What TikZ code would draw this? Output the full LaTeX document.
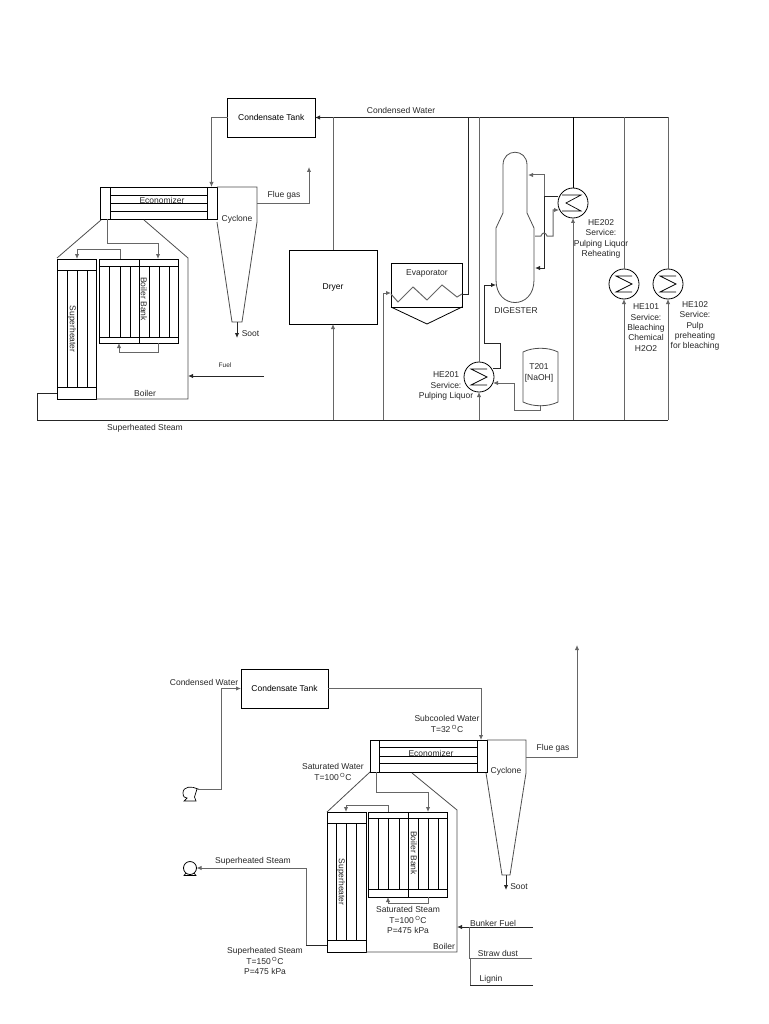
\documentclass[tikz,border=0pt]{standalone}
\usepackage{fontspec}
\setmainfont{Liberation Sans}
\usetikzlibrary{calc, arrows.meta}

\begin{document}
\begin{tikzpicture}[x=1pt, y=-1pt, >={Latex[length=5pt,width=4.5pt]},
    font=\fontsize{8.5}{10.3}\selectfont,
    unitbox/.style={draw, line width=0.8pt, inner sep=0pt, outer sep=0pt, align=center},
    heat/.style={draw, circle, line width=0.8pt, minimum size=30pt, inner sep=0pt, outer sep=0pt},
    tube/.style={line width=0.7pt},
    stream/.style={draw=black!60, line width=1pt},
    hotline/.style={draw=black!85, line width=1pt},
    shell/.style={draw=black!70, line width=0.8pt},
    txt/.style={inner sep=0pt, align=center, text=black!85}]

    \useasboundingbox (0,0) rectangle (768,1024);

    % 1. Upper flowsheet: tank, boiler units and cyclone
    \node[unitbox, minimum width=87.5pt, minimum height=39pt] (tankA) at (271.25,117.5) {Condensate Tank};
    \node[unitbox, minimum width=117pt, minimum height=32pt] (econA) at (158.5,203) {};
    \node[unitbox, minimum width=39pt, minimum height=140pt] (superA) at (76.5,329) {};
    \node[unitbox, minimum width=79pt, minimum height=84pt] (bankA) at (138.5,301) {};
    \node[unitbox, minimum width=88pt, minimum height=74pt] (dryer) at (333,287) {Dryer};

    \foreach \x in {110,207} \draw[tube] (\x,187) -- (\x,219);
    \foreach \y in {195,203,211} \draw[tube] (110,\y) -- (207,\y);
    \draw[tube] (57,270) -- (96,270) (57,387) -- (96,387);
    \foreach \x in {67,77,87} \draw[tube] (\x,270) -- (\x,387);
    \draw[tube] (99,266) -- (178,266) (99,337) -- (178,337);
    \foreach \x in {109,120,130,149,159,169} \draw[tube] (\x,266) -- (\x,337);
    \draw[tube] (139,259) -- (139,343);

    \node[txt] (econLblA) at (162,200.5) {Economizer};
    \node[txt, rotate=-90] (superLblA) at (72,329) {Superheater};
    \node[txt, rotate=-90] (bankLblA) at (144,299) {Boiler Bank};

    % boiler casing and cyclone
    \draw[shell] (101,220) -- (57,258);
    \draw[shell] (144,220) -- (188,258) -- (188,399) -- (96,399);
    \draw[shell] (217,187) -- (257,187) -- (257,222) -- (242,322) -- (232,322) -- (217,222);
    \node[txt] (cycA) at (237,219) {Cyclone};
    \node[txt] (boilA) at (145,393) {Boiler};

    % 2. Streams round the boiler
    \coordinate (steamA) at (57,393);
    \coordinate (hdrE) at (668,420);
    \coordinate (cndE) at (668,117.5);
    \draw[stream, ->] (tankA.west) -| (211.5,187);
    \draw[stream, ->] (107,219) -- (107,243) -- (158,243) -- (158,259);
    \draw[stream, ->] (120,259) -- (120,249) -- (77,249) -- (77,259);
    \draw[stream, ->] (158,343) -- (158,352) -- (119,352) -- (119,343);
    \draw[stream, ->] (257,204) -- (309,204) -- (309,167);
    \draw[hotline, ->] (237,322) -- (237,338);
    \draw[hotline, ->] (264,376) -- (188,376);
    \draw[hotline] (steamA) -- (37,393) -- (37,420) -- (hdrE);
    \draw[hotline, ->] (cndE) -- (tankA.east);
    \node[txt] (gasA) at (284,195) {Flue gas};
    \node[txt] (sootA) at (250.5,334) {Soot};
    \node[txt, font=\fontsize{6.5}{8}\selectfont] (fuelA) at (225,365) {Fuel};
    \node[txt] (steamLblA) at (145,428) {Superheated Steam};
    \node[txt] (cndLbl) at (401,110) {Condensed Water};

    % 3. Dryer and evaporator
    \node[unitbox, minimum width=71pt, minimum height=44pt] (evap) at (426.5,285) {};
    \draw[line width=0.8pt] (evap.south west) -- (427,324) -- (evap.south east);
    \draw[stream] (391,294) -- (398,302) -- (413,287) -- (427,300) -- (442,285) -- (457,297) -- (462,294);
    \node[txt] (evapLbl) at (427,273) {Evaporator};
    \coordinate (evapIn) at (391,293);
    \coordinate (evapOut) at (462,294);
    \draw[stream] (dryer.north) -- (dryer.north |- cndE);
    \draw[stream, ->] (dryer.south |- hdrE) -- (dryer.south);
    \draw[stream, ->] (383,420) |- (evapIn);
    \draw[hotline] (evapOut) -| (468,117.5);

    % 4. Heat exchangers
    \node[heat] (he201) at (479,377) {};
    \node[heat] (he202) at (573,203) {};
    \node[heat] (he101) at (624,284) {};
    \node[heat] (he102) at (668,284) {};
    \foreach \he in {he201,he101,he102}
        \draw[tube] ($(\he)+(8,-8)$) -- ($(\he)+(-8,-8)$) -- ($(\he)+(8,0)$) -- ($(\he)+(-8,8)$) -- ($(\he)+(8,8)$);
    \draw[tube] ($(he202)+(-11,-8)$) -- ($(he202)+(8,-8)$) -- ($(he202)+(-7,0)$) -- ($(he202)+(8,8)$) -- ($(he202)+(-11,8)$);

    \draw[stream] (he201.north) -- (he201.north |- cndE);
    \draw[stream, ->] (he201.south |- hdrE) -- (he201.south);
    \draw[line width=0.9pt] (he202.north) -- (he202.north |- cndE);
    \draw[stream, ->] (he202.south |- hdrE) -- (he202.south);
    \draw[stream] (he101.north) -- (he101.north |- cndE);
    \draw[stream, ->] (he101.south |- hdrE) -- (he101.south);
    \draw[stream] (he102.north) -- (cndE);
    \draw[stream, ->] (hdrE) -- (he102.south);

    \node[txt] (he201Lbl) at (446,386) {HE201\\Service:\\Pulping Liquor};
    \node[txt] (he202Lbl) at (601,239) {HE202\\Service:\\Pulping Liquor\\Reheating};
    \node[txt] (he101Lbl) at (646,327.5) {HE101\\Service:\\Bleaching\\Chemical\\H2O2};
    \node[txt] (he102Lbl) at (695,326) {HE102\\Service:\\Pulp\\preheating\\for bleaching};

    % 5. Digester and NaOH tank
    \draw[shell] (503,165) -- (503,213) -- (496,228) -- (496,280)
        .. controls (496,310) and (534,310) .. (534,280) -- (534,228) -- (527,213) -- (527,165)
        .. controls (527,148) and (503,148) .. (503,165) -- cycle;
    \node[txt] (digLbl) at (516,311) {DIGESTER};
    \draw[shell] (523,352) .. controls (533,347) and (548,347) .. (558,352) -- (558,402)
        .. controls (548,407) and (533,407) .. (523,402) -- cycle;
    \node[txt] (naoh) at (539,373) {T201\\{[NaOH]}};

    \coordinate (digIn) at (496,285);
    \draw[hotline, ->] (493,368) -| (500,343) -| (484,285) -- (digIn);
    \draw[stream, ->] (540,405) -- (540,410) -- (514,410) -- (514,383) -- (493,383);
    \draw[stream, ->] (544,197) -- (544,175) -- (528,175);
    \draw[hotline] (558,197) -- (544,197);
    \draw[hotline, ->] (544,197) -- (544,268) -- (535,268);
    \draw[stream, ->] (535,236) -- (541,236) .. controls (542,232) and (546,232) .. (547,236) -- (553,236) -- (553,210) -- (559,210);

    % 6. Lower flowsheet: tank, boiler units and cyclone
    \node[unitbox, minimum width=87pt, minimum height=39pt] (tankB) at (284.5,688.5) {Condensate Tank};
    \node[unitbox, minimum width=117pt, minimum height=32pt] (econB) at (428.5,756) {};
    \node[unitbox, minimum width=39pt, minimum height=140pt] (superB) at (346.5,882) {};
    \node[unitbox, minimum width=79pt, minimum height=85pt] (bankB) at (407.5,854.5) {};

    \foreach \x in {379,477} \draw[tube] (\x,740) -- (\x,772);
    \foreach \y in {747,756,763} \draw[tube] (379,\y) -- (477,\y);
    \draw[tube] (327,823) -- (366,823) (327,940) -- (366,940);
    \foreach \x in {336,346,356} \draw[tube] (\x,823) -- (\x,940);
    \draw[tube] (368,818) -- (447,818) (368,889) -- (447,889);
    \foreach \x in {378,388,399,418,428,438} \draw[tube] (\x,818) -- (\x,889);
    \draw[tube] (408,812) -- (408,897);

    \node[txt] (econLblB) at (431,753) {Economizer};
    \node[txt, rotate=-90] (superLblB) at (341,882) {Superheater};
    \node[txt, rotate=-90] (bankLblB) at (414,853) {Boiler Bank};

    \draw[shell] (370,772) -- (327,812);
    \draw[shell] (412,773) -- (457,810) -- (457,952) -- (366,952);
    \draw[shell] (487,740) -- (526,740) -- (526,773) -- (510,875) -- (502,875) -- (486,773);
    \node[txt] (cycB) at (506,771) {Cyclone};
    \node[txt] (boilB) at (444,946) {Boiler};

    % 7. Pumps on the lower flowsheet
    \node[circle, draw, line width=0.8pt, minimum size=13pt, inner sep=0pt, outer sep=0pt] (pumpB) at (190,868) {};
    \draw[tube] (186,873) -- (184,875.5) -- (196,875.5) -- (194,873);
    \coordinate (pumpA) at (198,789);
    \draw[tube] (pumpA) .. controls (192,786) and (183,786) .. (183,793) .. controls (183,797) and (185,798) .. (187,798)
        -- (184,801) -- (196,801) -- (194.5,797) -- (197,789) -- cycle;

    % 8. Streams on the lower flowsheet
    \coordinate (steamB) at (327,945);
    \coordinate (fuelIn) at (457,927);
    \draw[stream, ->] (pumpA) -- (221,789) |- (tankB.west);
    \draw[stream, ->] (tankB.east) -| (481,740);
    \draw[stream, ->] (376,772) -- (376,792) -- (428,792) -- (428,812);
    \draw[stream, ->] (388,812) -- (388,805) -- (346,805) -- (346,812);
    \draw[stream, ->] (428,897) -- (428,903) -- (388,903) -- (388,897);
    \draw[stream, ->] (526,757) -- (577,757) -- (577,645);
    \draw[hotline, ->] (506,875) -- (506,890);
    \draw[hotline] (steamB) -- (306,945);
    \draw[stream, ->] (306,945) |- (pumpB.east);
    \draw[hotline, ->] (533,927) -- (fuelIn);
    \draw[stream] (532,958) -- (469,958) -- (469,927);
    \draw[hotline] (533,985) -- (470,985);
    \draw[stream] (470,985) -- (470,958);

    \node[txt] (cndLblB) at (204,682) {Condensed Water};
    \node[txt] (steamOut) at (253,861) {Superheated Steam};
    \node[txt] (subLbl) at (447,724) {Subcooled Water\\T=32\,\textsuperscript{O}C};
    \node[txt] (satLbl) at (333,772) {Saturated Water\\T=100\,\textsuperscript{O}C};
    \node[txt] (stmLbl) at (408,920) {Saturated Steam\\T=100\,\textsuperscript{O}C\\P=475 kPa};
    \node[txt] (shLbl) at (265,961) {Superheated Steam\\T=150\,\textsuperscript{O}C\\P=475 kPa};
    \node[txt] (gasB) at (553,748) {Flue gas};
    \node[txt] (sootB) at (519,887) {Soot};
    \node[txt] (bunker) at (493,923) {Bunker Fuel};
    \node[txt] (straw) at (498,953) {Straw dust};
    \node[txt] (lignin) at (491,979) {Lignin};
\end{tikzpicture}
\end{document}
